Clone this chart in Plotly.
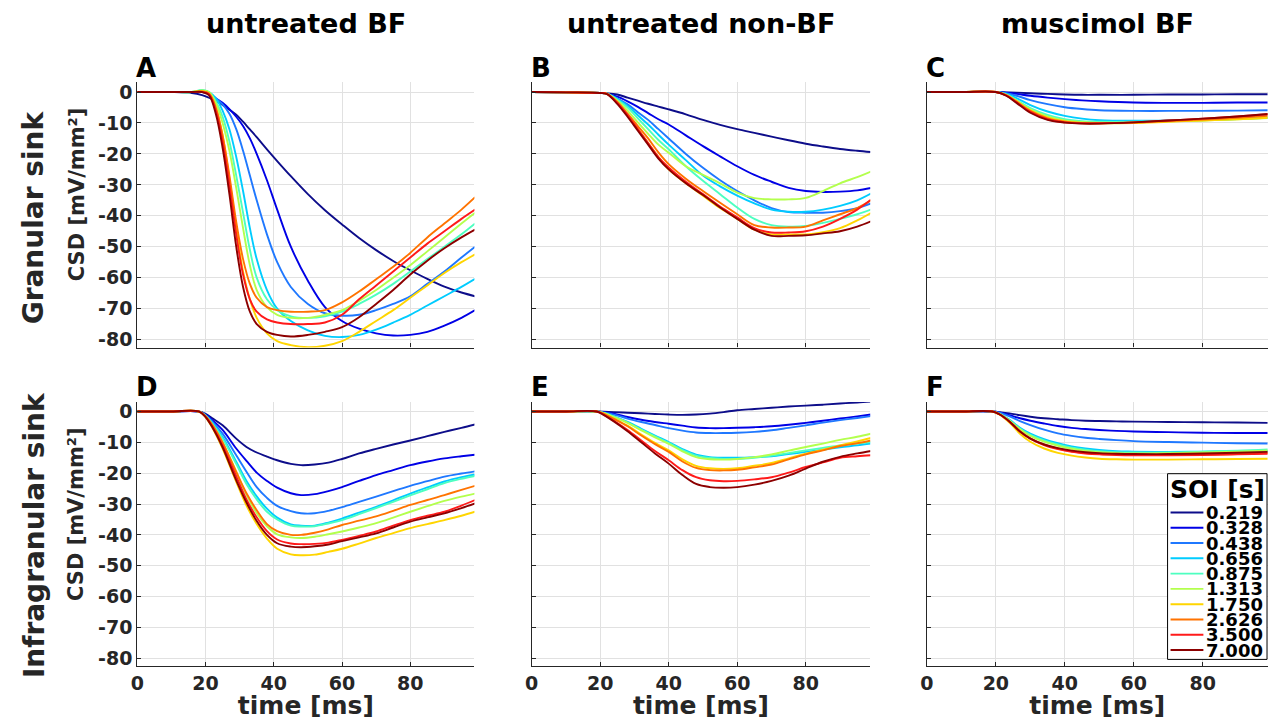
import plotly.graph_objects as go

W, H = 1272, 720

soi_labels = ["0.219", "0.328", "0.438", "0.656", "0.875", "1.313", "1.750", "2.626", "3.500", "7.000"]
soi_colors = ["#0d0d8a", "#0000e6", "#1f78ff", "#00ccff", "#4dffc0", "#b3ff4d", "#ffd500", "#ff7300", "#ff1a1a", "#8c0000"]

col_titles = ["untreated BF", "untreated non-BF", "muscimol BF"]
row_titles = ["Granular sink", "Infragranular sink"]
panel_letters = ["A", "B", "C", "D", "E", "F"]
y_tick_vals = [0, -10, -20, -30, -40, -50, -60, -70, -80]
y_tick_text = ["0", "-10", "-20", "-30", "-40", "-50", "-60", "-70", "-80"]
x_tick_vals = [0, 20, 40, 60, 80]

# Panel A
t_A = [0, 10, 16, 19, 21, 23, 25, 27, 29, 31, 33, 35, 38, 41, 45, 50, 55, 60, 65, 70, 75, 80, 85, 90, 95, 99]
csd_A = [
    [0, 0, -0.3, -1, -1.8, -2.8, -4.2, -5.7, -7.3, -9.6, -12.1, -14.6, -18.5, -22.3, -27.2, -33, -38.2, -42.8, -47.2, -51.1, -54.6, -57.6, -60.4, -62.9, -64.8, -66],
    [0, 0, 0, 0, -0.5, -2, -3.5, -5.5, -8, -11, -15, -20, -28.5, -38, -50, -61, -69.5, -74, -76.5, -78, -78.7, -78.5, -77.5, -75.5, -73, -70.5],
    [0, 0, 0, 0, -0.5, -2, -4, -7, -12, -19, -27, -35, -46, -55, -63, -68.5, -71.5, -72.3, -72, -70.5, -68.5, -66, -62, -58, -53.5, -50],
    [0, 0, 0, 0.5, 0, -2, -6, -12, -21, -32, -44, -54, -64, -70, -74, -77, -78.8, -79.2, -78.5, -76.8, -74.5, -72, -69, -66, -63, -60.4],
    [0, 0, 0, 0.7, 0, -3, -8, -16, -27, -39, -51, -60, -67, -70.5, -72.5, -73, -72.5, -71, -68.5, -65.5, -62, -58, -54, -50, -46, -42.5],
    [0, 0, 0, 0.5, 0, -3.5, -10, -19, -31, -44, -56, -64, -69.5, -72, -73, -73, -72, -70.5, -67.5, -64, -60, -56, -51.5, -47, -42.5, -39],
    [0, 0, 0, 0.3, -0.5, -5, -14, -28, -44, -58, -67, -73, -78, -80.5, -81.8, -82.5, -82, -80.5, -77.5, -74, -70.5, -66.5, -62.5, -58.5, -55, -52.5],
    [0, 0, 0, 0.2, -0.5, -5, -14, -27, -42, -54, -62, -66.5, -69.5, -70.5, -71, -71, -70.5, -68, -64.5, -60.5, -56.5, -52, -47, -42.5, -38, -34],
    [0, 0, 0, 0, -0.7, -6, -16, -30, -46, -59, -67, -71, -73.5, -74.5, -75, -75, -74.5, -72, -67, -62.5, -58, -53.5, -49, -45, -41, -38],
    [0, 0, 0, 0, -1, -7, -18, -33, -50, -63, -71, -75, -77.5, -78.5, -79, -78.5, -77.5, -76, -72.8, -68.5, -64, -59, -54.5, -50.5, -47, -44.5],
]

# Panel B
t_B = [0, 10, 20, 22, 25, 28, 31, 34, 37, 40, 45, 50, 55, 60, 65, 70, 75, 80, 85, 90, 95, 99]
csd_B = [
    [0, -0.1, -0.3, -0.4, -0.8, -1.8, -2.8, -3.8, -4.7, -5.6, -7.2, -9, -10.6, -12, -13.2, -14.4, -15.6, -16.7, -17.6, -18.4, -19, -19.4],
    [0, -0.1, -0.3, -0.5, -1.5, -3, -4.8, -6.8, -8.8, -10.5, -14, -17.5, -20.8, -24, -26.8, -29, -31, -32, -32.3, -32.2, -31.8, -31],
    [0, -0.1, -0.3, -0.5, -2, -4, -6.5, -9, -12, -15, -20, -24.5, -28.5, -32, -35, -37.5, -38.8, -39, -39, -38.5, -37.5, -36],
    [0, -0.1, -0.3, -0.5, -2.3, -4.5, -7.5, -10.5, -13.8, -17, -22, -27, -30.5, -33.5, -36, -38, -38.7, -38.7, -38, -36.8, -35, -32.8],
    [0, -0.1, -0.3, -0.5, -2.5, -5, -8.5, -12, -15.5, -18.5, -24, -28.7, -33, -37.3, -41, -43, -43.5, -43.3, -42.3, -41, -39.5, -38],
    [0, -0.1, -0.3, -0.5, -2.8, -6, -9.8, -13.5, -17, -19.6, -24, -26.8, -29.5, -32.5, -34.3, -34.7, -34.7, -34.2, -32, -29.5, -27.5, -25.7],
    [0, -0.1, -0.3, -0.6, -3.5, -7.5, -12, -16.5, -21, -25, -29.5, -33.5, -37.5, -41, -44.5, -46, -46, -46, -45.3, -44, -41.5, -39.1],
    [0, -0.1, -0.3, -0.6, -3.2, -7, -11, -15, -19.5, -23.3, -28, -32, -35.8, -39.5, -43, -43.8, -43.8, -43.5, -41.5, -39.5, -37.5, -35],
    [0, -0.1, -0.3, -0.6, -3.5, -7.5, -12, -16.5, -21, -24.4, -29, -33, -37, -40.5, -44, -45.4, -45.4, -45, -43.5, -41, -38, -34.8],
    [0, -0.1, -0.3, -0.7, -3.8, -8, -12.5, -17, -21.5, -25, -29.5, -33.3, -37.3, -41, -44.5, -46.5, -46.5, -46.3, -45.7, -45, -43.5, -41.8],
]

# Panel C
t_C = [0, 10, 20, 23, 26, 30, 35, 40, 45, 50, 60, 70, 80, 90, 99]
csd_C = [
    [0, 0, 0, -0.1, -0.2, -0.4, -0.6, -0.8, -0.9, -0.9, -0.9, -0.8, -0.8, -0.7, -0.7],
    [0, 0, 0, -0.2, -0.6, -1.2, -1.8, -2.3, -2.7, -3.0, -3.4, -3.5, -3.5, -3.4, -3.4],
    [0, 0, 0, -0.4, -1.2, -2.6, -3.9, -4.9, -5.5, -5.9, -6.1, -6.1, -6.1, -6.0, -5.9],
    [0, 0, 0, -0.6, -2.0, -4.2, -6.3, -7.7, -8.6, -9.1, -9.3, -9.2, -9.0, -8.7, -8.3],
    [0, 0, 0, -0.8, -2.6, -5.2, -7.4, -8.8, -9.4, -9.6, -9.6, -9.4, -9.1, -8.7, -8.2],
    [0, 0, 0, -0.9, -2.8, -5.6, -7.9, -9.2, -9.7, -9.9, -9.8, -9.5, -9.2, -8.8, -8.4],
    [0, 0, 0, -1.0, -3.0, -6.0, -8.3, -9.5, -10.0, -10.1, -10.0, -9.6, -9.2, -8.8, -8.3],
    [0, 0, 0, -1.0, -3.1, -6.1, -8.5, -9.6, -10.0, -10.1, -9.9, -9.4, -8.9, -8.3, -7.7],
    [0, 0, 0, -1.1, -3.3, -6.4, -8.8, -9.8, -10.1, -10.1, -9.8, -9.2, -8.6, -7.9, -7.2],
    [0, 0, 0, -1.2, -3.5, -6.7, -9.0, -9.9, -10.2, -10.2, -9.8, -9.2, -8.6, -7.9, -7.1],
]

# Panel D
t_D = [0, 10, 18, 20, 22, 25, 29, 32, 35, 38, 41, 45, 48, 52, 56, 60, 65, 70, 75, 80, 85, 90, 95, 99]
csd_D = [
    [0, 0, 0, -0.8, -2.2, -4.5, -8.8, -11.5, -13.3, -14.6, -15.8, -17, -17.4, -17.2, -16.6, -15.4, -13.6, -12.1, -10.7, -9.4, -8.0, -6.6, -5.3, -4.2],
    [0, 0, 0, -1, -2.8, -6, -12, -16, -19.8, -22.5, -24.7, -26.5, -27.1, -26.8, -25.8, -24.5, -22.5, -20.6, -19, -17.4, -16.2, -15.2, -14.5, -14],
    [0, 0, 0, -1.2, -3.3, -7.2, -14.2, -19.5, -24.5, -28, -30.6, -32.3, -33, -33, -32.2, -31, -29.3, -27.6, -25.8, -24.1, -22.6, -21.1, -20.1, -19.4],
    [0, 0, 0, -1.3, -3.7, -8.3, -16.3, -22.5, -27.5, -31.5, -34.4, -36.6, -37, -37, -36, -34.7, -32.8, -30.9, -28.8, -26.6, -24.6, -22.7, -21.3, -20.4],
    [0, 0, 0, -1.4, -4, -8.8, -17, -23.5, -28.5, -32.5, -35, -37, -37.3, -37.2, -36.3, -35.2, -33.3, -31.3, -29.3, -27.2, -25.2, -23.2, -21.8, -20.9],
    [0, 0, 0, -1.5, -4.4, -10, -19.5, -27, -33, -37.2, -39.8, -40.8, -41, -40.6, -39.8, -38.9, -37.6, -36.2, -34.4, -32.5, -30.7, -29, -27.6, -26.6],
    [0, 0, 0, -1.8, -5.3, -12, -22.8, -30.5, -36.5, -41.2, -44.5, -46.3, -46.6, -46.4, -45.5, -44.5, -42.8, -41, -39.4, -37.8, -36.5, -35.2, -33.8, -32.5],
    [0, 0, 0, -1.5, -4.3, -10, -19.6, -26.5, -32, -36.5, -38.8, -40, -40, -39.3, -38.2, -36.8, -35.4, -34, -32.2, -30.3, -28.7, -27.1, -25.4, -24.1],
    [0, 0, 0, -1.7, -4.9, -11, -21, -28.5, -34.3, -38.8, -41.5, -42.8, -43, -42.9, -42.5, -41.6, -40.3, -38.9, -37, -35.2, -33.8, -32.5, -30.5, -28.7],
    [0, 0, 0, -1.8, -5.1, -11.6, -22.3, -29.5, -35.5, -40, -42.7, -43.8, -44, -43.7, -43.1, -42, -40.8, -39.5, -37.6, -35.7, -34.3, -33, -31.3, -29.8],
]

# Panel E
t_E = [0, 10, 19, 21, 24, 28, 32, 36, 40, 44, 48, 52, 56, 60, 65, 70, 75, 80, 85, 90, 95, 99]
csd_E = [
    [0, 0, 0, -0.1, -0.2, -0.4, -0.6, -0.8, -1, -1.1, -1, -0.7, -0.2, 0.4, 0.8, 1.2, 1.6, 1.9, 2.2, 2.6, 2.9, 3.2],
    [0, 0, 0, -0.2, -0.7, -1.8, -2.7, -3.4, -4, -4.6, -5.2, -5.4, -5.4, -5.3, -5.1, -4.8, -4.3, -3.7, -3, -2.3, -1.6, -1],
    [0, 0, 0, -0.3, -1, -2.3, -3.4, -4.4, -5.4, -6.2, -6.8, -7, -7, -6.9, -6.6, -6.1, -5.3, -4.5, -3.6, -2.8, -2.1, -1.5],
    [0, 0, 0, -0.5, -1.6, -3.4, -5.6, -7.8, -9.9, -12.2, -14, -14.8, -15, -15, -14.8, -14.5, -13.8, -13.1, -12.4, -11.6, -11, -10.4],
    [0, 0, 0, -0.5, -1.7, -3.6, -5.9, -8.1, -10.2, -12.5, -14.3, -15.1, -15.4, -15.4, -15, -14.3, -13.5, -12.6, -11.8, -11, -10.4, -9.9],
    [0, 0, 0, -0.5, -1.8, -3.7, -6.1, -8.4, -10.5, -12.9, -14.8, -15.5, -15.6, -15.4, -14.8, -13.9, -12.7, -11.5, -10.4, -9.2, -8.2, -7.2],
    [0, 0, 0, -0.7, -2.3, -4.6, -7.5, -10.2, -12.6, -15.5, -17.6, -18.4, -18.6, -18.4, -17.6, -16.7, -15.2, -13.7, -12.4, -11, -9.7, -8.6],
    [0, 0, 0, -0.7, -2.4, -4.8, -7.8, -10.6, -13.1, -16.2, -18.3, -19, -19.1, -18.9, -18.1, -17.2, -15.5, -13.9, -12.6, -11.2, -10.3, -9.4],
    [0, 0, 0, -1, -3, -6, -9.4, -12.8, -15.8, -19, -21.3, -22.3, -22.6, -22.5, -22, -21.3, -19.8, -18, -16.5, -15, -14.5, -14.2],
    [0, 0, 0, -1.1, -3.2, -6.4, -10, -13.6, -16.9, -20.6, -23.5, -24.5, -24.7, -24.5, -23.7, -22.5, -20.8, -18.5, -16.3, -14.7, -13.6, -12.8],
]

# Panel F
t_F = [0, 10, 19, 21, 24, 27, 30, 34, 38, 42, 46, 50, 55, 60, 70, 80, 90, 99]
csd_F = [
    [0, 0, 0, -0.2, -0.6, -1.2, -1.7, -2.2, -2.5, -2.8, -3, -3.1, -3.2, -3.3, -3.4, -3.5, -3.6, -3.7],
    [0, 0, 0, -0.3, -1.2, -2.2, -3, -3.9, -4.7, -5.3, -5.7, -6, -6.3, -6.5, -6.7, -6.9, -7, -7],
    [0, 0, 0, -0.4, -1.6, -3.1, -4.4, -5.9, -7.1, -7.9, -8.5, -8.9, -9.3, -9.6, -9.9, -10.1, -10.3, -10.4],
    [0, 0, 0, -0.7, -2.7, -5.3, -7.2, -9, -10.3, -11.3, -12, -12.5, -12.9, -13, -13.1, -13, -12.9, -12.8],
    [0, 0, 0, -0.8, -2.9, -5.6, -7.6, -9.4, -10.7, -11.7, -12.4, -12.9, -13.2, -13.3, -13.3, -13, -12.7, -12.3],
    [0, 0, 0, -0.8, -3, -5.8, -7.9, -9.8, -11.1, -12.1, -12.8, -13.2, -13.5, -13.6, -13.5, -13.3, -13, -12.6],
    [0, 0, 0, -1, -3.7, -7.2, -9.8, -12, -13.4, -14.3, -14.9, -15.3, -15.5, -15.6, -15.6, -15.5, -15.4, -15.3],
    [0, 0, 0, -0.9, -3.3, -6.4, -8.7, -10.7, -12, -12.9, -13.5, -13.8, -14, -14.1, -14.1, -14, -13.8, -13.4],
    [0, 0, 0, -0.9, -3.3, -6.5, -8.8, -10.9, -12.2, -13.1, -13.6, -13.9, -14.1, -14.2, -14.2, -14.1, -13.9, -13.7],
    [0, 0, 0, -0.9, -3.3, -6.5, -8.8, -10.7, -11.9, -12.7, -13.2, -13.5, -13.7, -13.8, -13.8, -13.6, -13.4, -13.1],
]

panels = [(t_A, csd_A), (t_B, csd_B), (t_C, csd_C), (t_D, csd_D), (t_E, csd_E), (t_F, csd_F)]

# ---------- layout geometry (pixels) ----------
col_px = [(131, 470), (527.5, 868), (925, 1267.5)]
row_px = [(81, 348), (402.7, 669)]


def px(x):
    return x / W


def py(y):
    return 1 - y / H


FONT = "DejaVu Sans"
TXT = "#262626"

fig = go.Figure()
layout = dict(
    width=W, height=H,
    margin=dict(l=0, r=0, t=0, b=0),
    paper_bgcolor="white", plot_bgcolor="white",
    showlegend=False,
    font=dict(family=FONT, color=TXT),
)

for i, (t, vals) in enumerate(panels):
    r, c = divmod(i, 3)
    xa = "x" if i == 0 else f"x{i+1}"
    ya = "y" if i == 0 else f"y{i+1}"
    for k, series in enumerate(vals):
        fig.add_trace(go.Scatter(
            x=t, y=series, mode="lines", xaxis=xa, yaxis=ya,
            line=dict(color=soi_colors[k], width=1.9, shape="spline", smoothing=1.0),
            name=soi_labels[k], showlegend=False, hoverinfo="skip",
        ))
    axis_common = dict(
        showline=True, linecolor=TXT, linewidth=1.2, mirror=False,
        showgrid=True, gridcolor="#e1e1e1", gridwidth=1, zeroline=False,
        ticks="inside", ticklen=4, tickcolor=TXT, tickwidth=1,
        tickfont=dict(family=FONT, size=19, weight="bold", color=TXT),
    )
    xkey = "xaxis" if i == 0 else f"xaxis{i+1}"
    ykey = "yaxis" if i == 0 else f"yaxis{i+1}"
    layout[xkey] = dict(
        axis_common,
        domain=[px(col_px[c][0]), px(col_px[c][1])],
        anchor=ya,
        range=[0, 98.8], tickvals=x_tick_vals,
        ticktext=[str(v) for v in x_tick_vals],
        showticklabels=(r == 1),
    )
    if r == 1:
        layout[xkey]["title"] = dict(text="time [ms]", font=dict(family=FONT, size=25, weight="bold", color=TXT), standoff=0)
    layout[ykey] = dict(
        axis_common,
        domain=[py(row_px[r][1]), py(row_px[r][0])],
        anchor=xa,
        range=[-82.6, 3.1], tickvals=y_tick_vals, ticktext=y_tick_text,
        showticklabels=(c == 0),
    )

annotations = []
# column titles
for c, title in enumerate(col_titles):
    annotations.append(dict(
        x=px((col_px[c][0] + col_px[c][1]) / 2), y=py(22), xref="paper", yref="paper",
        text=title, showarrow=False, xanchor="center", yanchor="middle",
        font=dict(family=FONT, size=27, weight="bold", color="black"),
    ))
# panel letters
for i, letter in enumerate(panel_letters):
    r, c = divmod(i, 3)
    annotations.append(dict(
        x=px(col_px[c][0] - 3), y=py(row_px[r][0] - 15), xref="paper", yref="paper",
        text=letter, showarrow=False, xanchor="left", yanchor="middle",
        font=dict(family=FONT, size=26, weight="bold", color="black"),
    ))
# row titles and y-axis labels
row_csd_center = [194, 516]
row_name_center = [217, 537]
for r in range(2):
    annotations.append(dict(
        x=px(70), y=py(row_csd_center[r]), xref="paper", yref="paper",
        text="CSD [mV/mm²]", showarrow=False, textangle=-90,
        xanchor="center", yanchor="middle",
        font=dict(family=FONT, size=21, weight="bold", color=TXT),
    ))
    annotations.append(dict(
        x=px(27), y=py(row_name_center[r]), xref="paper", yref="paper",
        text=row_titles[r], showarrow=False, textangle=-90,
        xanchor="center", yanchor="middle",
        font=dict(family=FONT, size=28, weight="bold", color=TXT),
    ))

# legend (drawn in panel F corner)
shapes = []
lg_left, lg_right, lg_top, lg_bottom = 1167, 1267, 475, 662
shapes.append(dict(type="rect", xref="paper", yref="paper",
                   x0=px(lg_left), x1=px(lg_right), y0=py(lg_bottom), y1=py(lg_top),
                   line=dict(color="black", width=1), fillcolor="white", layer="above"))
annotations.append(dict(
    x=px(1217), y=py(491), xref="paper", yref="paper", text="SOI [s]",
    showarrow=False, xanchor="center", yanchor="middle",
    font=dict(family=FONT, size=25, weight="bold", color="black"),
))
for k, lab in enumerate(soi_labels):
    yy = 514 + k * 15.4
    shapes.append(dict(type="line", xref="paper", yref="paper",
                       x0=px(1170), x1=px(1203), y0=py(yy), y1=py(yy),
                       line=dict(color=soi_colors[k], width=1.9), layer="above"))
    annotations.append(dict(
        x=px(1204), y=py(yy), xref="paper", yref="paper", text=lab,
        showarrow=False, xanchor="left", yanchor="middle",
        font=dict(family=FONT, size=18, weight="bold", color="black"),
    ))

layout["annotations"] = annotations
layout["shapes"] = shapes
fig.update_layout(**layout)
fig.write_html("out.html")
